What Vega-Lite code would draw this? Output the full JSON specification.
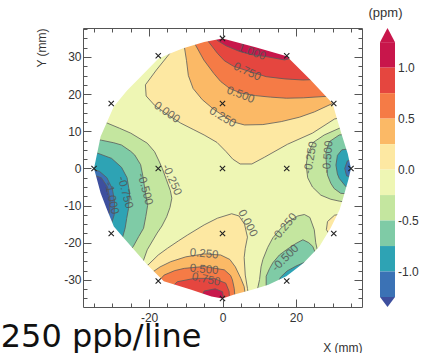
{
"$schema": "https://vega.github.io/schema/vega-lite/v6.json",
"padding": {"left": 0, "top": 7, "right": 0, "bottom": 0},
"background": "white",
"config": {"font": "Liberation Sans", "view": {"stroke": null}, "axis": {"minExtent": 0, "grid": false, "tickColor": "#555", "domainColor": "#555", "labelColor": "#333", "titleColor": "#333"}},
"title": {"text": "250 ppb/line", "orient": "bottom", "anchor": "start", "font": "DejaVu Sans", "fontSize": 32, "fontWeight": "normal", "color": "#111", "offset": 0, "dx": -35, "dy": -31},
"bounds": "flush",
"spacing": 18,
"datasets": {
"base": [{"p":"B","b":"n0","x":-40,"y":-40},{"p":"B","b":"n0","x":40,"y":-40},{"p":"B","b":"n0","x":40,"y":40},{"p":"B","b":"n0","x":-40,"y":40}],
"lv1": [
{"p":"P1","b":"p0","x":-12,"y":34},{"p":"P1","b":"p0","x":-14.5,"y":30.8},{"p":"P1","b":"p0","x":-18,"y":26.5},{"p":"P1","b":"p0","x":-21,"y":22.5},{"p":"P1","b":"p0","x":-20.8,"y":19.5},{"p":"P1","b":"p0","x":-18.5,"y":17},{"p":"P1","b":"p0","x":-15,"y":14.5},{"p":"P1","b":"p0","x":-11.4,"y":12.2},{"p":"P1","b":"p0","x":-8,"y":10.5},{"p":"P1","b":"p0","x":-5,"y":9},{"p":"P1","b":"p0","x":-1.5,"y":7},{"p":"P1","b":"p0","x":1,"y":4.5},{"p":"P1","b":"p0","x":2.8,"y":2.5},{"p":"P1","b":"p0","x":4.8,"y":1.2},{"p":"P1","b":"p0","x":8,"y":1.2},{"p":"P1","b":"p0","x":11.4,"y":3},{"p":"P1","b":"p0","x":17.7,"y":6.5},{"p":"P1","b":"p0","x":24.5,"y":9.5},{"p":"P1","b":"p0","x":30.5,"y":13.3},{"p":"P1","b":"p0","x":36,"y":14.5},{"p":"P1","b":"p0","x":40,"y":14.5},{"p":"P1","b":"p0","x":40,"y":40},{"p":"P1","b":"p0","x":-12,"y":40},
{"p":"B1","b":"p0","x":-23,"y":-28},{"p":"B1","b":"p0","x":-20.3,"y":-26},{"p":"B1","b":"p0","x":-17.5,"y":-23.3},{"p":"B1","b":"p0","x":-15,"y":-21.5},{"p":"B1","b":"p0","x":-12,"y":-19.5},{"p":"B1","b":"p0","x":-9.5,"y":-17.9},{"p":"B1","b":"p0","x":-5,"y":-15.2},{"p":"B1","b":"p0","x":-1.4,"y":-13.4},{"p":"B1","b":"p0","x":2.5,"y":-12.2},{"p":"B1","b":"p0","x":4.5,"y":-12.8},{"p":"B1","b":"p0","x":6,"y":-15},{"p":"B1","b":"p0","x":6.8,"y":-18.5},{"p":"B1","b":"p0","x":6.2,"y":-21.5},{"p":"B1","b":"p0","x":5.9,"y":-24},{"p":"B1","b":"p0","x":6.2,"y":-28.7},{"p":"B1","b":"p0","x":6.8,"y":-32.3},{"p":"B1","b":"p0","x":7.5,"y":-37},{"p":"B1","b":"p0","x":7.5,"y":-40},{"p":"B1","b":"p0","x":-23,"y":-40},
{"p":"BO","b":"p0","x":34,"y":-12},{"p":"BO","b":"p0","x":30.5,"y":-12.6},{"p":"BO","b":"p0","x":28.6,"y":-14.3},{"p":"BO","b":"p0","x":28.3,"y":-16.5},{"p":"BO","b":"p0","x":29.5,"y":-18.3},{"p":"BO","b":"p0","x":34,"y":-18.3},
{"p":"L1","b":"n1","x":-34,"y":13.5},{"p":"L1","b":"n1","x":-31.4,"y":12.2},{"p":"L1","b":"n1","x":-28,"y":10.8},{"p":"L1","b":"n1","x":-25,"y":9.5},{"p":"L1","b":"n1","x":-20.5,"y":6.8},{"p":"L1","b":"n1","x":-18.5,"y":4.5},{"p":"L1","b":"n1","x":-17.3,"y":2},{"p":"L1","b":"n1","x":-16.4,"y":0},{"p":"L1","b":"n1","x":-15.3,"y":-3},{"p":"L1","b":"n1","x":-14.2,"y":-6},{"p":"L1","b":"n1","x":-13.8,"y":-8},{"p":"L1","b":"n1","x":-14.3,"y":-10.5},{"p":"L1","b":"n1","x":-15.2,"y":-13},{"p":"L1","b":"n1","x":-16.5,"y":-15.5},{"p":"L1","b":"n1","x":-17.8,"y":-17.4},{"p":"L1","b":"n1","x":-20.5,"y":-21.9},{"p":"L1","b":"n1","x":-21.8,"y":-25.5},{"p":"L1","b":"n1","x":-23,"y":-28},{"p":"L1","b":"n1","x":-40,"y":-28},{"p":"L1","b":"n1","x":-40,"y":13.5},
{"p":"R1","b":"n1","x":36,"y":12},{"p":"R1","b":"n1","x":31.8,"y":10.8},{"p":"R1","b":"n1","x":27.7,"y":9},{"p":"R1","b":"n1","x":24.7,"y":7},{"p":"R1","b":"n1","x":23.3,"y":4},{"p":"R1","b":"n1","x":22.8,"y":1},{"p":"R1","b":"n1","x":23.2,"y":-2.5},{"p":"R1","b":"n1","x":24.5,"y":-5},{"p":"R1","b":"n1","x":26.8,"y":-7.2},{"p":"R1","b":"n1","x":29.5,"y":-8.3},{"p":"R1","b":"n1","x":31.8,"y":-8.8},{"p":"R1","b":"n1","x":36,"y":-9.5},{"p":"R1","b":"n1","x":40,"y":-9.5},{"p":"R1","b":"n1","x":40,"y":12},
{"p":"BR1","b":"n1","x":9.3,"y":-36},{"p":"BR1","b":"n1","x":9.6,"y":-32.2},{"p":"BR1","b":"n1","x":10.1,"y":-29.9},{"p":"BR1","b":"n1","x":10.5,"y":-26.5},{"p":"BR1","b":"n1","x":11,"y":-24.5},{"p":"BR1","b":"n1","x":12.3,"y":-21.3},{"p":"BR1","b":"n1","x":13.7,"y":-18.7},{"p":"BR1","b":"n1","x":16,"y":-16},{"p":"BR1","b":"n1","x":18.5,"y":-14},{"p":"BR1","b":"n1","x":20.5,"y":-12.8},{"p":"BR1","b":"n1","x":22.3,"y":-12.4},{"p":"BR1","b":"n1","x":23.8,"y":-13.2},{"p":"BR1","b":"n1","x":25,"y":-16.5},{"p":"BR1","b":"n1","x":25.4,"y":-20},{"p":"BR1","b":"n1","x":25.8,"y":-21.8},{"p":"BR1","b":"n1","x":29,"y":-24},{"p":"BR1","b":"n1","x":29,"y":-40},{"p":"BR1","b":"n1","x":9.3,"y":-40}
],
"lv2": [
{"p":"P2","b":"p1","x":-10.5,"y":34.5},{"p":"P2","b":"p1","x":-10.4,"y":32.8},{"p":"P2","b":"p1","x":-9.8,"y":29},{"p":"P2","b":"p1","x":-9.3,"y":25},{"p":"P2","b":"p1","x":-8,"y":21.5},{"p":"P2","b":"p1","x":-5.5,"y":18.5},{"p":"P2","b":"p1","x":-2.5,"y":16},{"p":"P2","b":"p1","x":0,"y":14.3},{"p":"P2","b":"p1","x":3,"y":12.5},{"p":"P2","b":"p1","x":6,"y":11.7},{"p":"P2","b":"p1","x":11,"y":11.8},{"p":"P2","b":"p1","x":16,"y":12.6},{"p":"P2","b":"p1","x":21,"y":13.8},{"p":"P2","b":"p1","x":25,"y":15.2},{"p":"P2","b":"p1","x":30,"y":17.5},{"p":"P2","b":"p1","x":34,"y":19},{"p":"P2","b":"p1","x":40,"y":19},{"p":"P2","b":"p1","x":40,"y":40},{"p":"P2","b":"p1","x":-10.5,"y":40},
{"p":"B2","b":"p1","x":-22,"y":-30},{"p":"B2","b":"p1","x":-19.5,"y":-28.2},{"p":"B2","b":"p1","x":-17,"y":-26.5},{"p":"B2","b":"p1","x":-14.1,"y":-25.1},{"p":"B2","b":"p1","x":-10,"y":-23.8},{"p":"B2","b":"p1","x":-5,"y":-23},{"p":"B2","b":"p1","x":-0.5,"y":-23.3},{"p":"B2","b":"p1","x":2,"y":-24.5},{"p":"B2","b":"p1","x":3.5,"y":-26.5},{"p":"B2","b":"p1","x":5,"y":-29.6},{"p":"B2","b":"p1","x":5.9,"y":-31.8},{"p":"B2","b":"p1","x":6.5,"y":-36},{"p":"B2","b":"p1","x":6.5,"y":-40},{"p":"B2","b":"p1","x":-22,"y":-40},
{"p":"L2","b":"n2","x":-36,"y":8},{"p":"L2","b":"n2","x":-33,"y":7.6},{"p":"L2","b":"n2","x":-29.6,"y":6.9},{"p":"L2","b":"n2","x":-27.5,"y":6.3},{"p":"L2","b":"n2","x":-25,"y":4.6},{"p":"L2","b":"n2","x":-23.9,"y":3.6},{"p":"L2","b":"n2","x":-22.3,"y":1},{"p":"L2","b":"n2","x":-21.7,"y":-2},{"p":"L2","b":"n2","x":-21,"y":-6.6},{"p":"L2","b":"n2","x":-20.4,"y":-10},{"p":"L2","b":"n2","x":-20.9,"y":-13},{"p":"L2","b":"n2","x":-21.5,"y":-16.1},{"p":"L2","b":"n2","x":-22.8,"y":-18.3},{"p":"L2","b":"n2","x":-24.3,"y":-21},{"p":"L2","b":"n2","x":-26,"y":-23},{"p":"L2","b":"n2","x":-40,"y":-23},{"p":"L2","b":"n2","x":-40,"y":8},
{"p":"R2","b":"n2","x":36,"y":9.5},{"p":"R2","b":"n2","x":31.8,"y":9},{"p":"R2","b":"n2","x":29.1,"y":7.2},{"p":"R2","b":"n2","x":28.2,"y":4.5},{"p":"R2","b":"n2","x":28.2,"y":2.7},{"p":"R2","b":"n2","x":28.6,"y":-1.8},{"p":"R2","b":"n2","x":29.5,"y":-4},{"p":"R2","b":"n2","x":30.4,"y":-5.4},{"p":"R2","b":"n2","x":32.2,"y":-6.7},{"p":"R2","b":"n2","x":36,"y":-7},{"p":"R2","b":"n2","x":40,"y":-7},{"p":"R2","b":"n2","x":40,"y":9.5},
{"p":"BR2","b":"n2","x":11.9,"y":-36},{"p":"BR2","b":"n2","x":11.9,"y":-31.7},{"p":"BR2","b":"n2","x":11.9,"y":-29},{"p":"BR2","b":"n2","x":12.8,"y":-27},{"p":"BR2","b":"n2","x":13.7,"y":-25.4},{"p":"BR2","b":"n2","x":15.5,"y":-23.3},{"p":"BR2","b":"n2","x":17.4,"y":-21.9},{"p":"BR2","b":"n2","x":20,"y":-20.2},{"p":"BR2","b":"n2","x":21.9,"y":-19.2},{"p":"BR2","b":"n2","x":23.5,"y":-20},{"p":"BR2","b":"n2","x":24.6,"y":-21},{"p":"BR2","b":"n2","x":25.2,"y":-22.5},{"p":"BR2","b":"n2","x":28,"y":-25},{"p":"BR2","b":"n2","x":28,"y":-40},{"p":"BR2","b":"n2","x":11.9,"y":-40}
],
"lv3": [
{"p":"P3","b":"p2","x":-7,"y":36},{"p":"P3","b":"p2","x":-7.4,"y":33.3},{"p":"P3","b":"p2","x":-5.1,"y":29.2},{"p":"P3","b":"p2","x":-2.4,"y":25.6},{"p":"P3","b":"p2","x":-0.5,"y":23.4},{"p":"P3","b":"p2","x":2,"y":21.5},{"p":"P3","b":"p2","x":5,"y":20.3},{"p":"P3","b":"p2","x":9,"y":19.6},{"p":"P3","b":"p2","x":13,"y":19.2},{"p":"P3","b":"p2","x":17.4,"y":18.9},{"p":"P3","b":"p2","x":22,"y":19},{"p":"P3","b":"p2","x":28.3,"y":19.4},{"p":"P3","b":"p2","x":33,"y":20},{"p":"P3","b":"p2","x":40,"y":20},{"p":"P3","b":"p2","x":40,"y":40},{"p":"P3","b":"p2","x":-7,"y":40},
{"p":"B3","b":"p2","x":-18,"y":-31},{"p":"B3","b":"p2","x":-15.9,"y":-28.7},{"p":"B3","b":"p2","x":-13,"y":-27.5},{"p":"B3","b":"p2","x":-10.4,"y":-26.9},{"p":"B3","b":"p2","x":-5,"y":-26.4},{"p":"B3","b":"p2","x":0.5,"y":-27.3},{"p":"B3","b":"p2","x":2.2,"y":-28.8},{"p":"B3","b":"p2","x":2.7,"y":-30},{"p":"B3","b":"p2","x":3.2,"y":-32.3},{"p":"B3","b":"p2","x":3.5,"y":-36},{"p":"B3","b":"p2","x":3.5,"y":-40},{"p":"B3","b":"p2","x":-18,"y":-40},
{"p":"L3","b":"n3","x":-36,"y":4.3},{"p":"L3","b":"n3","x":-34,"y":4.1},{"p":"L3","b":"n3","x":-30.2,"y":2.7},{"p":"L3","b":"n3","x":-27.5,"y":0.3},{"p":"L3","b":"n3","x":-26,"y":-2.5},{"p":"L3","b":"n3","x":-25.3,"y":-6.6},{"p":"L3","b":"n3","x":-25.6,"y":-10.8},{"p":"L3","b":"n3","x":-26.1,"y":-13.5},{"p":"L3","b":"n3","x":-26.5,"y":-16},{"p":"L3","b":"n3","x":-27.2,"y":-18.5},{"p":"L3","b":"n3","x":-30,"y":-20},{"p":"L3","b":"n3","x":-40,"y":-20},{"p":"L3","b":"n3","x":-40,"y":4.3},
{"p":"R3","b":"n3","x":36,"y":5.5},{"p":"R3","b":"n3","x":32.5,"y":5},{"p":"R3","b":"n3","x":31.3,"y":3.5},{"p":"R3","b":"n3","x":30.9,"y":0.9},{"p":"R3","b":"n3","x":31.3,"y":-1.5},{"p":"R3","b":"n3","x":31.8,"y":-2.7},{"p":"R3","b":"n3","x":33.6,"y":-4.9},{"p":"R3","b":"n3","x":36,"y":-5.5},{"p":"R3","b":"n3","x":40,"y":-5.5},{"p":"R3","b":"n3","x":40,"y":5.5},
{"p":"BR3","b":"n3","x":14,"y":-36},{"p":"BR3","b":"n3","x":14.5,"y":-32},{"p":"BR3","b":"n3","x":15.8,"y":-29.3},{"p":"BR3","b":"n3","x":17.6,"y":-27.6},{"p":"BR3","b":"n3","x":20,"y":-26.3},{"p":"BR3","b":"n3","x":22.5,"y":-25.2},{"p":"BR3","b":"n3","x":26,"y":-27},{"p":"BR3","b":"n3","x":26,"y":-40},{"p":"BR3","b":"n3","x":14,"y":-40}
],
"lv4": [
{"p":"P4","b":"p3","x":-4,"y":37},{"p":"P4","b":"p3","x":-4.2,"y":34.6},{"p":"P4","b":"p3","x":-1.4,"y":31},{"p":"P4","b":"p3","x":0.5,"y":29},{"p":"P4","b":"p3","x":3,"y":27.5},{"p":"P4","b":"p3","x":7,"y":26.2},{"p":"P4","b":"p3","x":11.9,"y":24.7},{"p":"P4","b":"p3","x":17,"y":24.1},{"p":"P4","b":"p3","x":21.9,"y":23.8},{"p":"P4","b":"p3","x":27,"y":24},{"p":"P4","b":"p3","x":40,"y":24},{"p":"P4","b":"p3","x":40,"y":40},{"p":"P4","b":"p3","x":-4,"y":40},
{"p":"B4","b":"p3","x":-15,"y":-33},{"p":"B4","b":"p3","x":-12.3,"y":-30.5},{"p":"B4","b":"p3","x":-7.7,"y":-29.6},{"p":"B4","b":"p3","x":-2.3,"y":-29.6},{"p":"B4","b":"p3","x":0.9,"y":-30.9},{"p":"B4","b":"p3","x":1.8,"y":-33.1},{"p":"B4","b":"p3","x":2,"y":-37},{"p":"B4","b":"p3","x":2,"y":-40},{"p":"B4","b":"p3","x":-15,"y":-40},
{"p":"L4","b":"n4","x":-36,"y":0},{"p":"L4","b":"n4","x":-33.5,"y":-0.8},{"p":"L4","b":"n4","x":-31.5,"y":-2.5},{"p":"L4","b":"n4","x":-30,"y":-5.5},{"p":"L4","b":"n4","x":-29.4,"y":-9},{"p":"L4","b":"n4","x":-29.5,"y":-12.5},{"p":"L4","b":"n4","x":-30.3,"y":-15},{"p":"L4","b":"n4","x":-32,"y":-16},{"p":"L4","b":"n4","x":-40,"y":-16},{"p":"L4","b":"n4","x":-40,"y":0},
{"p":"R4","b":"n4","x":36,"y":2.5},{"p":"R4","b":"n4","x":34,"y":2},{"p":"R4","b":"n4","x":33.3,"y":0},{"p":"R4","b":"n4","x":33.8,"y":-2},{"p":"R4","b":"n4","x":36,"y":-2.5},{"p":"R4","b":"n4","x":40,"y":-2.5},{"p":"R4","b":"n4","x":40,"y":2.5}
],
"lv5": [
{"p":"P5","b":"p4","x":-2,"y":37},{"p":"P5","b":"p4","x":-1.5,"y":34.5},{"p":"P5","b":"p4","x":1,"y":33},{"p":"P5","b":"p4","x":4.6,"y":31.5},{"p":"P5","b":"p4","x":8,"y":30.6},{"p":"P5","b":"p4","x":11.9,"y":30.1},{"p":"P5","b":"p4","x":16.9,"y":29.2},{"p":"P5","b":"p4","x":20,"y":30},{"p":"P5","b":"p4","x":20,"y":40},{"p":"P5","b":"p4","x":-2,"y":40},
{"p":"B5","b":"p4","x":-6.5,"y":-36},{"p":"B5","b":"p4","x":-5,"y":-33},{"p":"B5","b":"p4","x":-2,"y":-32.4},{"p":"B5","b":"p4","x":0,"y":-33.2},{"p":"B5","b":"p4","x":0.5,"y":-36},{"p":"B5","b":"p4","x":0.5,"y":-40},{"p":"B5","b":"p4","x":-6.5,"y":-40},
{"p":"L5","b":"n5","x":-36,"y":-1.5},{"p":"L5","b":"n5","x":-33,"y":-2.5},{"p":"L5","b":"n5","x":-31.3,"y":-5},{"p":"L5","b":"n5","x":-30.6,"y":-8.5},{"p":"L5","b":"n5","x":-30.8,"y":-12},{"p":"L5","b":"n5","x":-32,"y":-14},{"p":"L5","b":"n5","x":-36,"y":-14}
],
"mask": [
{"x":40,"y":0},{"x":40,"y":40},{"x":-40,"y":40},{"x":-40,"y":-40},{"x":40,"y":-40},{"x":40,"y":0},
{"x":35,"y":0},{"x":34.3,"y":-3},{"x":33,"y":-7.5},{"x":31.9,"y":-11.1},{"x":29.5,"y":-16},{"x":26.4,"y":-21},{"x":22,"y":-25.5},{"x":17.4,"y":-29},{"x":12.5,"y":-31.3},{"x":8.3,"y":-32.6},{"x":3,"y":-34},{"x":0,"y":-35},{"x":-3,"y":-34.5},{"x":-8.7,"y":-32.6},{"x":-16,"y":-30.4},{"x":-20.5,"y":-25.9},{"x":-26.9,"y":-18.7},{"x":-29.6,"y":-15.6},{"x":-31.5,"y":-11},{"x":-33.2,"y":-6.6},{"x":-35,"y":0},{"x":-33.2,"y":8.6},{"x":-29.6,"y":16.7},{"x":-26,"y":21},{"x":-22.3,"y":24.7},{"x":-17.5,"y":29.5},{"x":-14.6,"y":30.8},{"x":-10.9,"y":32.3},{"x":-5,"y":34},{"x":0,"y":35},{"x":9,"y":32.6},{"x":17.5,"y":30.2},{"x":24,"y":23.8},{"x":30,"y":17.5},{"x":31,"y":14},{"x":32.5,"y":9},{"x":34.1,"y":4},{"x":35,"y":0},{"x":40,"y":0}
],
"labels": [
{"t":"0.000","x":-15.2,"y":15,"a":35},{"t":"0.250","x":0,"y":13.7,"a":31},{"t":"0.500","x":4.9,"y":19.7,"a":21},{"t":"0.750","x":6.7,"y":25.9,"a":25},{"t":"1.000","x":8,"y":31.2,"a":20},
{"t":"-0.250","x":-13.9,"y":-3.1,"a":66},{"t":"-0.500","x":-21.2,"y":-5.6,"a":75},{"t":"-0.750","x":-26.6,"y":-6.5,"a":75},{"t":"-1.000","x":-30.3,"y":-8,"a":78},
{"t":"-0.250","x":24.1,"y":2.9,"a":-80},{"t":"-0.500","x":28.8,"y":3.1,"a":-85},
{"t":"0.000","x":6.8,"y":-14.8,"a":62},{"t":"-0.250","x":17,"y":-15.9,"a":-50},{"t":"-0.500","x":17.2,"y":-24.2,"a":-45},
{"t":"0.250","x":-5,"y":-23.1,"a":5},{"t":"0.500","x":-5,"y":-27.3,"a":5},{"t":"0.750","x":-4.5,"y":-30,"a":12}
],
"pts": [
{"x":0,"y":35},{"x":17.5,"y":30.31},{"x":30.31,"y":17.5},{"x":35,"y":0},{"x":30.31,"y":-17.5},{"x":17.5,"y":-30.31},{"x":0,"y":-35},{"x":-17.5,"y":-30.31},{"x":-30.31,"y":-17.5},{"x":-35,"y":0},{"x":-30.31,"y":17.5},{"x":-17.5,"y":30.31},{"x":0,"y":17.5},{"x":17.5,"y":0},{"x":0,"y":-17.5},{"x":-17.5,"y":0},{"x":0,"y":0}
],
"cbar": [
{"lo":1.0,"hi":1.25,"b":"p4"},{"lo":0.75,"hi":1.0,"b":"p3"},{"lo":0.5,"hi":0.75,"b":"p2"},{"lo":0.25,"hi":0.5,"b":"p1"},{"lo":0,"hi":0.25,"b":"p0"},{"lo":-0.25,"hi":0,"b":"n0"},{"lo":-0.5,"hi":-0.25,"b":"n1"},{"lo":-0.75,"hi":-0.5,"b":"n2"},{"lo":-1.0,"hi":-0.75,"b":"n3"},{"lo":-1.25,"hi":-1.0,"b":"n4"}
],
"cbtri": [
{"p":"T","b":"p4","x":0,"y":1.25},{"p":"T","b":"p4","x":1,"y":1.25},{"p":"T","b":"p4","x":0.5,"y":1.389},
{"p":"U","b":"n5","x":0,"y":-1.25},{"p":"U","b":"n5","x":1,"y":-1.25},{"p":"U","b":"n5","x":0.5,"y":-1.348}
],
"cblab": [{"v":1,"t":"1.0"},{"v":0.5,"t":"0.5"},{"v":0,"t":"0.0"},{"v":-0.5,"t":"-0.5"},{"v":-1,"t":"-1.0"}]
},
"hconcat": [
{
"width": 279, "height": 279,
"layer": [
{"data": {"name": "base"}, "mark": {"type": "line", "clip": true, "strokeWidth": 0},
 "encoding": {
  "x": {"field": "x", "type": "quantitative", "scale": {"domain": [-38, 38], "nice": false, "zero": false},
   "axis": {"orient": "bottom", "values": [-20, 0, 20], "labelExpr": "'' + datum.value", "tickSize": -8, "labelOverlap": false, "labelFlush": false, "labelFontSize": 12, "labelPadding": 13, "title": "X (mm)", "titleAnchor": "end", "titleFontSize": 12, "titleFontWeight": "normal", "titlePadding": 19, "zindex": 1}},
  "y": {"field": "y", "type": "quantitative", "scale": {"domain": [-37.3, 37.8], "nice": false, "zero": false},
   "axis": {"orient": "left", "values": [-30, -20, -10, 0, 10, 20, 30], "labelExpr": "'' + datum.value", "tickSize": -8, "labelOverlap": false, "labelFlush": false, "labelFontSize": 12, "labelPadding": 10, "title": "Y (mm)", "titleAnchor": "end", "titleFontSize": 12, "titleFontWeight": "normal", "titlePadding": 15, "zindex": 1}},
  "fill": {"field": "b", "type": "nominal", "scale": {"domain": ["n5","n4","n3","n2","n1","n0","p0","p1","p2","p3","p4","p5"], "range": ["#3e4f9e","#3b72b5","#2ea3b4","#7fcba6","#c4e69f","#eef6b4","#fde8a2","#fbb966","#f57b46","#e5463f","#c8164b","#a80c42"]}, "legend": null},
  "detail": {"field": "p"},
  "order": {"value": null}
 }},
{"data": {"name": "lv1"}, "mark": {"type": "line", "clip": true, "stroke": "#5a5a5a", "strokeWidth": 0.8},
 "encoding": {
  "x": {"field": "x", "type": "quantitative", "axis": {"orient": "bottom", "values": [-35,-30,-25,-15,-10,-5,5,10,15,25,30,35], "labels": false, "domain": false, "tickSize": -4, "title": null, "zindex": 1}},
  "y": {"field": "y", "type": "quantitative", "axis": {"orient": "left", "values": [-35,-32.5,-27.5,-25,-22.5,-17.5,-15,-12.5,-7.5,-5,-2.5,2.5,5,7.5,12.5,15,17.5,22.5,25,27.5,32.5,35,37.5], "labels": false, "domain": false, "tickSize": -4, "title": null, "zindex": 1}},
  "fill": {"field": "b", "type": "nominal", "legend": null}, "detail": {"field": "p"}, "order": {"value": null}}},
{"data": {"name": "lv2"}, "mark": {"type": "line", "clip": true, "stroke": "#5a5a5a", "strokeWidth": 0.8},
 "encoding": {
  "x": {"field": "x", "type": "quantitative", "axis": {"orient": "top", "values": [-35,-30,-25,-15,-10,-5,5,10,15,25,30,35], "labels": false, "domain": false, "tickSize": -4, "title": null, "zindex": 1}},
  "y": {"field": "y", "type": "quantitative", "axis": {"orient": "right", "values": [-35,-32.5,-27.5,-25,-22.5,-17.5,-15,-12.5,-7.5,-5,-2.5,2.5,5,7.5,12.5,15,17.5,22.5,25,27.5,32.5,35,37.5], "labels": false, "domain": false, "tickSize": -4, "title": null, "zindex": 1}},
  "fill": {"field": "b", "type": "nominal", "legend": null}, "detail": {"field": "p"}, "order": {"value": null}}},
{"data": {"name": "lv3"}, "mark": {"type": "line", "clip": true, "stroke": "#5a5a5a", "strokeWidth": 0.8},
 "encoding": {"x": {"field": "x", "type": "quantitative", "axis": null}, "y": {"field": "y", "type": "quantitative", "axis": null}, "fill": {"field": "b", "type": "nominal", "legend": null}, "detail": {"field": "p"}, "order": {"value": null}}},
{"data": {"name": "lv4"}, "mark": {"type": "line", "clip": true, "stroke": "#5a5a5a", "strokeWidth": 0.8},
 "encoding": {"x": {"field": "x", "type": "quantitative", "axis": null}, "y": {"field": "y", "type": "quantitative", "axis": null}, "fill": {"field": "b", "type": "nominal", "legend": null}, "detail": {"field": "p"}, "order": {"value": null}}},
{"data": {"name": "lv5"}, "mark": {"type": "line", "clip": true, "stroke": "#5a5a5a", "strokeWidth": 0.8},
 "encoding": {"x": {"field": "x", "type": "quantitative", "axis": null}, "y": {"field": "y", "type": "quantitative", "axis": null}, "fill": {"field": "b", "type": "nominal", "legend": null}, "detail": {"field": "p"}, "order": {"value": null}}},
{"data": {"name": "mask"}, "mark": {"type": "line", "clip": true, "fill": "white", "strokeWidth": 0},
 "encoding": {
  "x": {"field": "x", "type": "quantitative", "axis": {"orient": "top", "values": [-20, 0, 20], "labels": false, "tickSize": -8, "title": null, "zindex": 1}},
  "y": {"field": "y", "type": "quantitative", "axis": {"orient": "right", "values": [-30, -20, -10, 0, 10, 20, 30], "labels": false, "tickSize": -8, "title": null, "zindex": 1}},
  "order": {"value": null}
 }},
{"data": {"name": "labels"}, "mark": {"type": "text", "fontSize": 11.5, "fill": "#555", "opacity": 0.85, "align": "center", "baseline": "middle"},
 "encoding": {"x": {"field": "x", "type": "quantitative", "axis": null}, "y": {"field": "y", "type": "quantitative", "axis": null}, "text": {"field": "t"}, "angle": {"field": "a", "type": "quantitative", "scale": null}}},
{"data": {"name": "pts"}, "mark": {"type": "point", "shape": "M-1,-1L1,1M-1,1L1,-1", "size": 28, "filled": false, "stroke": "#222", "strokeWidth": 1.1, "opacity": 1},
 "encoding": {"x": {"field": "x", "type": "quantitative", "axis": null}, "y": {"field": "y", "type": "quantitative", "axis": null}}}
],
"resolve": {"axis": {"x": "independent", "y": "independent"}}
},
{
"width": 15, "height": 279,
"title": {"text": "(ppm)", "fontSize": 13, "fontWeight": "normal", "color": "#333", "anchor": "middle", "frame": "group", "offset": 8, "dx": -2},
"layer": [
{"data": {"name": "cbtri"}, "mark": {"type": "line", "strokeWidth": 0},
 "encoding": {
  "x": {"field": "x", "type": "quantitative", "scale": {"domain": [0, 1], "nice": false, "zero": false}, "axis": null},
  "y": {"field": "y", "type": "quantitative", "scale": {"domain": [-1.348, 1.389], "nice": false, "zero": false}, "axis": null},
  "fill": {"field": "b", "type": "nominal", "scale": {"domain": ["n5","n4","n3","n2","n1","n0","p0","p1","p2","p3","p4","p5"], "range": ["#3e4f9e","#3b72b5","#2ea3b4","#7fcba6","#c4e69f","#eef6b4","#fde8a2","#fbb966","#f57b46","#e5463f","#c8164b","#a80c42"]}, "legend": null},
  "detail": {"field": "p"},
  "order": {"value": null}
 }},
{"data": {"name": "cbar"}, "mark": {"type": "rect"},
 "encoding": {
  "x": {"datum": 0, "type": "quantitative", "axis": null},
  "x2": {"datum": 1},
  "y": {"field": "lo", "type": "quantitative", "axis": null},
  "y2": {"field": "hi"},
  "fill": {"field": "b", "type": "nominal", "legend": null}
 }},
{"data": {"name": "cblab"}, "mark": {"type": "text", "align": "left", "baseline": "middle", "dx": 3, "fontSize": 12, "fill": "#333"},
 "encoding": {
  "x": {"datum": 1, "type": "quantitative", "axis": null},
  "y": {"field": "v", "type": "quantitative", "axis": null},
  "text": {"field": "t"}
 }}
]
}
]
}
